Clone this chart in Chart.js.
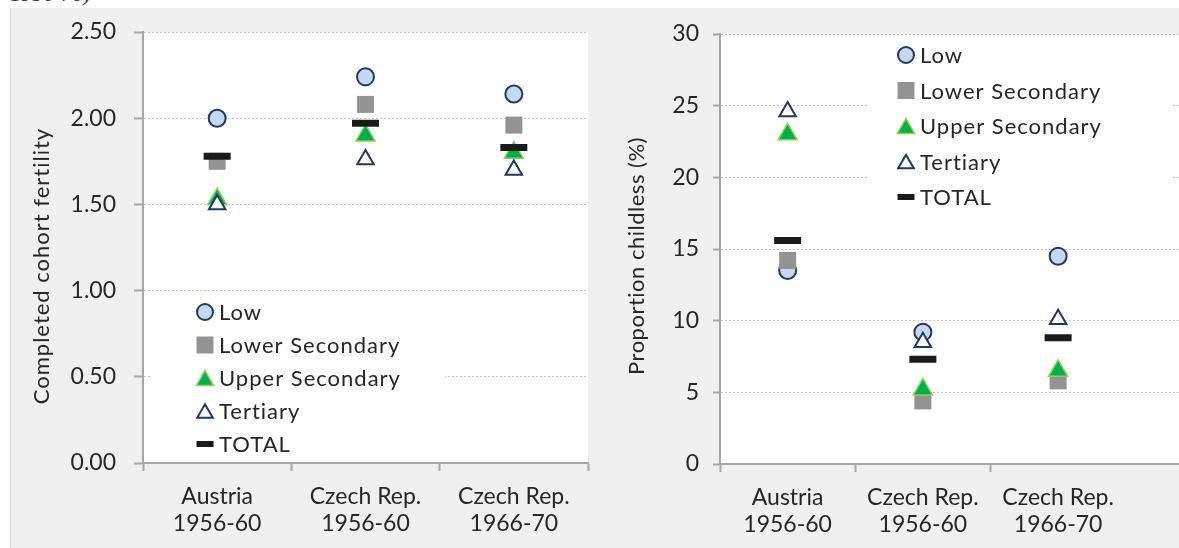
<!DOCTYPE html>
<html>
<head>
<meta charset="utf-8">
<script src="https://cdn.jsdelivr.net/npm/chart.js@4"></script>
<style>
html, body { margin: 0; padding: 0; width: 1179px; height: 548px; overflow: hidden; background: #fff; }
#frame { position: absolute; left: 10px; top: 8px; width: 1169px; height: 540px; background: #f0f0f0; border-left: 1px solid #d9d9d9; }
#cut { position: absolute; left: 10px; top: -19px; font: italic 22px "Liberation Serif"; color: #333; }
canvas { position: absolute; }
#fertility { left: 10px; top: 8px; }
#childless { left: 605px; top: 8px; }
</style>
</head>
<body>
<div id="cut">1956-70)</div>
<div id="frame"></div>
<canvas id="fertility" width="595" height="540"></canvas>
<canvas id="childless" width="670" height="540"></canvas>
<script>
// === Data ===

const categories = [['Austria', '1956-60'], ['Czech Rep.', '1956-60'], ['Czech Rep.', '1966-70']];
const seriesNames = ['Low', 'Lower Secondary', 'Upper Secondary', 'Tertiary', 'TOTAL'];

// completed cohort fertility
const fertLow = [2.00, 2.24, 2.14];
const fertLowerSec = [1.75, 2.08, 1.96];
const fertUpperSec = [1.53, 1.90, 1.80];
const fertTertiary = [1.50, 1.76, 1.70];
const fertTotal = [1.78, 1.97, 1.83];

// proportion childless (%)
const childLow = [13.5, 9.2, 14.5];
const childLowerSec = [14.2, 4.4, 5.8];
const childUpperSec = [23.0, 5.2, 6.5];
const childTertiary = [24.6, 8.5, 10.1];
const childTotal = [15.6, 7.3, 8.8];

const fertTicks = { min: 0, max: 2.5, step: 0.5 };
const childTicks = { min: 0, max: 30, step: 5 };


// === Styles ===

const FONT = 'Lato, "Open Sans", sans-serif';
const TEXT = '#262626';
const AXIS = '#a6a6a6';

const markers = [
	{ style: 'circle', radius: 8.5, legendRadius: 8, fill: '#c6d9f1', border: '#1f3864', width: 2 },
	{ style: 'rect', radius: 12, legendRadius: 12, fill: '#939393', border: '#939393', width: 0 },
	{ style: 'triangle', radius: 11, legendRadius: 10, fill: '#00b050', border: '#92d050', width: 1.5 },
	{ style: 'triangle', radius: 9.5, legendRadius: 9, fill: '#ffffff', border: '#1f3864', width: 2 },
	{ style: 'line', radius: 13.5, legendRadius: 8.5, fill: '#1a1a1a', border: '#1a1a1a', width: 7, legendWidth: 6 }
];


// === Plugins ===

const plotBackground = {
	id: 'plotBackground',
	beforeDraw(chart) {
		const a = chart.chartArea;
		chart.ctx.save();
		chart.ctx.fillStyle = '#ffffff';
		chart.ctx.fillRect(a.left, a.top, a.right - a.left, a.bottom - a.top);
		chart.ctx.restore();
	}
};

const insideLegend = {
	id: 'insideLegend',
	afterDraw(chart, args, opts) {
		const ctx = chart.ctx;
		ctx.save();
		ctx.fillStyle = '#ffffff';
		ctx.fillRect(opts.box[0], opts.box[1], opts.box[2], opts.box[3]);
		ctx.font = '22px ' + FONT;
		ctx.letterSpacing = opts.spacing;
		ctx.textBaseline = 'middle';
		chart.data.datasets.forEach((ds, i) => {
			const m = markers[i];
			const y = opts.y + i * opts.row;
			const r = m.legendRadius;
			const bw = m.legendWidth || m.width;
			ctx.fillStyle = m.fill;
			ctx.strokeStyle = m.border;
			ctx.lineWidth = bw;
			const dy = m.style === 'triangle' ? r / 4 : 0;
			Chart.helpers.drawPoint(ctx, { pointStyle: m.style, radius: r, rotation: 0, borderWidth: bw }, opts.x, y + dy);
			ctx.fillStyle = TEXT;
			ctx.fillText(ds.label, opts.x + opts.textGap, y + 1);
		});
		ctx.restore();
	}
};

const sideTitle = {
	id: 'sideTitle',
	afterDraw(chart, args, opts) {
		const ctx = chart.ctx;
		ctx.save();
		ctx.translate(opts.x, opts.y);
		ctx.rotate(-Math.PI / 2);
		ctx.font = '22px ' + FONT;
		ctx.letterSpacing = opts.spacing;
		ctx.fillStyle = TEXT;
		ctx.textAlign = 'center';
		ctx.textBaseline = 'middle';
		ctx.fillText(opts.text, 0, 0);
		ctx.restore();
	}
};


// === Charts ===

function createDotChart(canvas, labels, values, ticks, fmt, layout) {
	const datasets = seriesNames.map((name, i) => ({
		label: name,
		data: values[i],
		showLine: false,
		order: 5 - i,
		pointStyle: markers[i].style,
		pointRadius: markers[i].radius,
		pointHoverRadius: markers[i].radius,
		pointBackgroundColor: markers[i].fill,
		pointBorderColor: markers[i].border,
		pointBorderWidth: markers[i].width
	}));

	return new Chart(canvas, {
		type: 'line',
		data: { labels: labels, datasets: datasets },
		options: {
			responsive: false,
			animation: false,
			events: [],
			layout: { padding: layout.padding, autoPadding: false },
			plugins: {
				legend: { display: false },
				tooltip: { enabled: false },
				insideLegend: layout.legend,
				sideTitle: layout.title
			},
			scales: {
				x: {
					offset: true,
					grid: {
						offset: true,
						drawOnChartArea: false,
						tickLength: 8,
						tickWidth: 2,
						tickColor: (c) => c.index > layout.lastTick ? 'rgba(0,0,0,0)' : AXIS
					},
					border: { color: AXIS, width: 2 },
					ticks: {
						font: { family: FONT, size: 23, lineHeight: 1.18 },
						color: TEXT,
						padding: 12,
						maxRotation: 0,
						autoSkip: false
					},
					afterFit: (s) => { s.height = layout.xHeight; }
				},
				y: {
					min: ticks.min,
					max: ticks.max,
					grid: {
						color: '#c8c8c8',
						lineWidth: 1,
						tickLength: layout.yTick,
						tickColor: AXIS,
						tickWidth: 2
					},
					border: { color: AXIS, width: 2, dash: [2, 2] },
					ticks: {
						stepSize: ticks.step,
						font: { family: FONT, size: 23 },
						color: TEXT,
						padding: layout.yPad,
						callback: fmt
					},
					afterFit: (s) => {
						s.width = layout.yWidth;
						s.paddingTop = 0;
						s.paddingBottom = 0;
					}
				}
			}
		},
		plugins: [plotBackground, insideLegend, sideTitle]
	});
}

createDotChart(
	document.getElementById('fertility'),
	categories,
	[fertLow, fertLowerSec, fertUpperSec, fertTertiary, fertTotal],
	fertTicks,
	(v) => v.toFixed(2),
	{
		padding: { top: 24, right: 17, left: 0, bottom: 0 },
		xHeight: 85, yWidth: 133, yTick: 9, yPad: 18, lastTick: 3,
		legend: { box: [140, 288, 295, 165], x: 195, y: 304, row: 33, textGap: 14, spacing: '1px' },
		title: { text: 'Completed cohort fertility', x: 32, y: 258, spacing: '1px' }
	}
);

createDotChart(
	document.getElementById('childless'),
	categories.concat(['']),
	[childLow, childLowerSec, childUpperSec, childTertiary, childTotal],
	childTicks,
	(v) => v,
	{
		padding: { top: 26, right: 14, left: 0, bottom: 0 },
		xHeight: 84, yWidth: 115, yTick: 7, yPad: 14, lastTick: 2,
		legend: { box: [262, 32, 305, 190], x: 301, y: 47, row: 35.5, textGap: 14, spacing: '1px' },
		title: { text: 'Proportion childless (%)', x: 32, y: 248, spacing: '0.5px' }
	}
);
</script>
</body>
</html>
